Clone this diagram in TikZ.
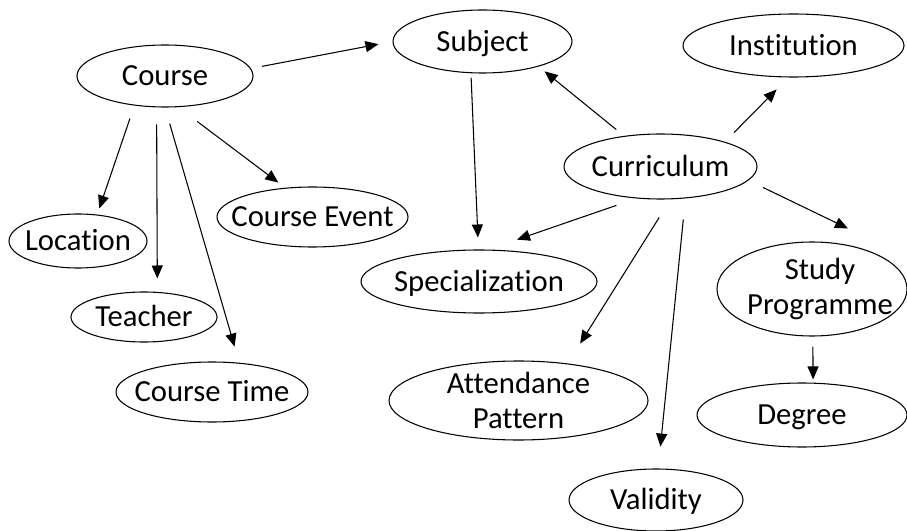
\documentclass[tikz,border=0pt]{standalone}
\usepackage{fontspec}
\setmainfont[Ligatures={NoCommon}]{Carlito}
\usetikzlibrary{shapes.geometric,arrows.meta,calc}
\newdimen\pxu \pxu=0.75pt
\begin{document}
\begin{tikzpicture}[x=0.75pt,y=-0.75pt,
  ell/.style 2 args={ellipse, draw=black, line width=0.8pt, minimum width=#1\pxu, minimum height=#2\pxu, inner sep=0pt},
  lbl/.style={font=\fontsize{23pt}{26.5pt}\selectfont, text height=14.8pt, text depth=0pt, inner sep=0pt},
  mlbl/.style={font=\fontsize{23pt}{26.5pt}\selectfont, align=center, inner sep=0pt},
  el/.style n args={3}{ell={#1}{#2}, label={[lbl]center:#3}},
  arr/.style={-{Triangle[length=9.75pt,width=8.25pt]}, line width=0.8pt},
  sh/.style 2 args={shorten <=#1\pxu, shorten >=#2\pxu}]
\fill[white] (0,0) rectangle (907,531);
\useasboundingbox (0,0) rectangle (907,531);

% nodes
\node[el={176}{62}{Course}] (course) at (165,76) {};
\node[el={179}{63}{Subject}] (subject) at (482.5,41.5) {};
\node[el={221}{63}{Institution}] (inst) at (793.5,45.5) {};
\node[el={193}{65}{Curriculum}] (curr) at (660.5,166.5) {};
\node[el={191}{60}{Course Event}] (cevent) at (312.5,217) {};
\node[el={138}{54}{Location}] (loc) at (78,241) {};
\node[el={146}{50}{Teacher}] (teacher) at (144,317) {};
\node[el={192}{60}{Course Time}] (ctime) at (212,392) {};
\node[el={236}{63}{Specialization}] (spec) at (479,281.5) {};
\node[ell={259}{79}, label={[mlbl]center:Attendance\\Pattern}] (att) at (518.5,400.5) {};
\node[el={174}{62}{Validity}] (valid) at (656,500) {};
\node[ell={190}{94}, label={[mlbl,xshift=6pt]center:Study\\Programme}] (study) at (812,289) {};
\node[el={210}{64}{Degree}] (degree) at (802,415) {};
\coordinate (sptip) at ($(study.north)+(36,-13)$);

% connectors
\draw[arr, sh={11.4}{14.2}] (course.5) -- (subject.180);
\draw[arr, sh={13.7}{6.4}] (course.224) -- (loc.54);
\draw[arr, sh={17.1}{13.4}] (course.255) -- (teacher.62);
\draw[arr, sh={16.7}{16.8}] (course.270) -- (ctime.47);
\draw[arr, sh={23.8}{8.6}] (course.293) -- (cevent.133);
\draw[arr, sh={4.3}{12.0}] (subject.250) -- (spec.91);
\draw[arr, sh={10.0}{7.6}] (curr.140) -- (subject.336);
\draw[arr, sh={13.0}{16.8}] (curr.21) -- (inst.261);
\draw[arr, sh={21.1}{30.5}] (curr.233) -- (spec.74);
\draw[arr, sh={16.2}{0}] (curr.351) -- (sptip);
\draw[arr, sh={21.4}{23.5}] (curr.287) -- (att.37);
\draw[arr, sh={21.2}{22.0}] (curr.308) -- (valid.86);
\draw[arr, sh={10}{3.2}] (study.271) -- (degree.71);
\end{tikzpicture}
\end{document}
